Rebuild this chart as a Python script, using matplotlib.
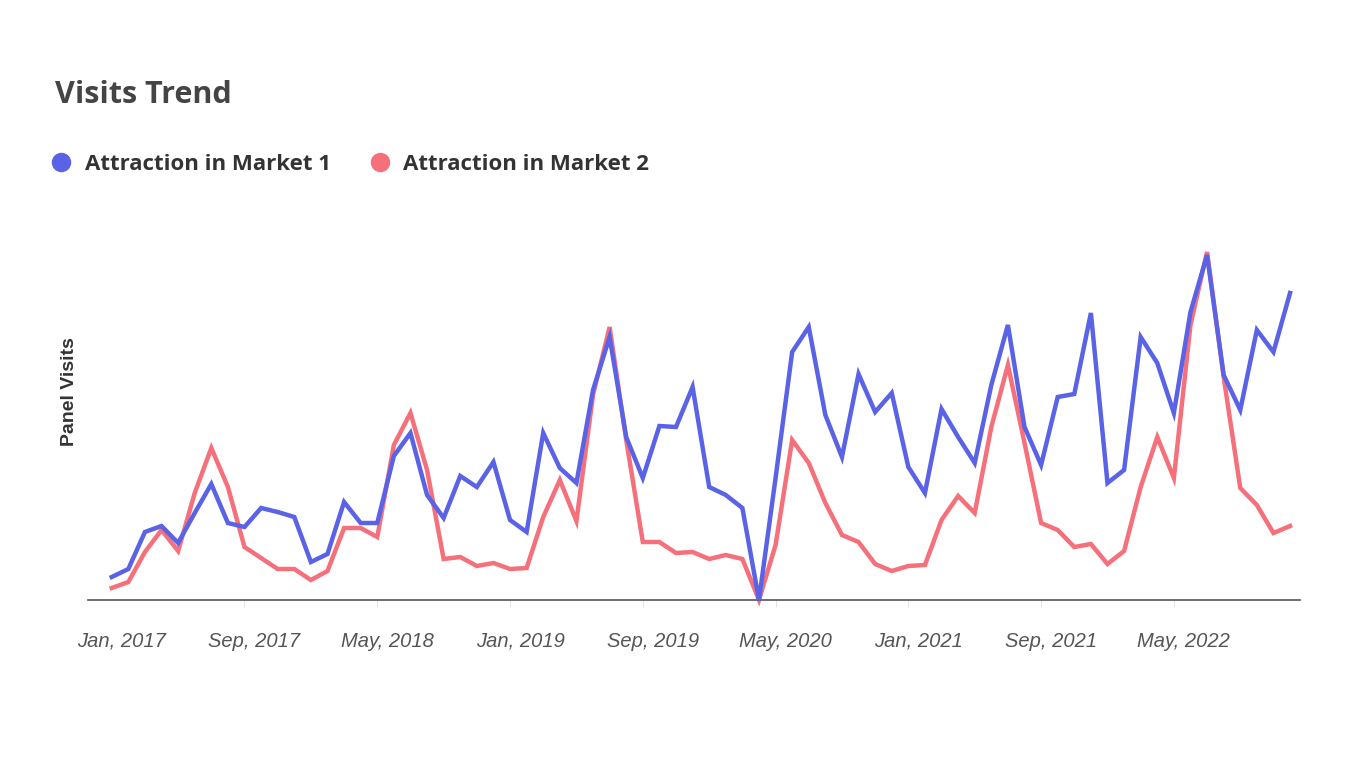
import matplotlib
matplotlib.use("Agg")
import matplotlib.pyplot as plt
from matplotlib.lines import Line2D
import numpy as np

# monthly panel visits, Jan 2017 .. Dec 2022
market1 = [23, 31, 68, 74, 57, 87, 116, 77, 73, 92, 88, 83,
           38, 46, 98, 77, 77, 144, 167, 105, 82, 124, 113, 138,
           80, 68, 167, 132, 117, 210, 263, 163, 122, 174, 173, 213,
           113, 105, 92, 0, 122, 248, 273, 185, 143, 226, 188, 207,
           133, 107, 191, 163, 137, 215, 275, 173, 135, 203, 206, 287,
           117, 130, 263, 237, 187, 288, 345, 225, 190, 270, 248, 307]
market2 = [12, 18, 48, 70, 49, 107, 152, 113, 53, 42, 31, 31,
           20, 29, 72, 72, 63, 155, 187, 130, 41, 43, 34, 37,
           31, 32, 83, 120, 79, 205, 273, 160, 58, 58, 47, 48,
           41, 45, 41, 0, 55, 160, 137, 97, 65, 58, 36, 29,
           34, 35, 80, 104, 87, 173, 235, 157, 77, 70, 53, 56,
           36, 49, 113, 163, 122, 275, 348, 223, 112, 95, 67, 74]
series_names = ["Attraction in Market 1", "Attraction in Market 2"]
tick_labels = ["Jan, 2017", "Sep, 2017", "May, 2018", "Jan, 2019", "Sep, 2019",
               "May, 2020", "Jan, 2021", "Sep, 2021", "May, 2022"]

blue = "#5A62E6"
red = "#F5707A"

months = np.arange(len(market1))

fig = plt.figure(figsize=(13.62, 7.59), dpi=100)
ax = fig.add_axes([88 / 1362, 1 - 600 / 759, 1212 / 1362, 400 / 759])

ax.plot(months, market2, color=red, lw=3.2, solid_joinstyle="miter", clip_on=False, zorder=2)
ax.plot(months, market1, color=blue, lw=3.2, solid_joinstyle="miter", clip_on=False, zorder=3)

ax.set_xlim(-1.43, 71.6)
ax.set_ylim(0, 400)

for s in ["top", "right", "left"]:
    ax.spines[s].set_visible(False)
ax.spines["bottom"].set_color("#555555")
ax.spines["bottom"].set_linewidth(1.2)
ax.set_yticks([])

# labels sit a little to the right of the faint tick marks
tick_pos = np.arange(0, 72, 8)
ax.set_xticks(tick_pos + 0.6)
ax.set_xticklabels(tick_labels, fontstyle="italic", fontsize=14.5,
                   color="#555555", family="Liberation Sans")
ax.tick_params(axis="x", length=0, pad=23)
ax.set_xticks(tick_pos[1:], minor=True)
ax.tick_params(axis="x", which="minor", length=5, width=0.8, color="#e4e4e4", pad=3)

ax.set_ylabel("Panel Visits", fontsize=14, fontweight="bold", color="#333333",
              family="Liberation Sans")
ax.yaxis.set_label_coords(-10 / 1212, 0.52)

fig.text(55 / 1362, 1 - 95 / 759, "Visits Trend", fontsize=22, fontweight="bold",
         color="#444444", family="Open Sans", va="center", ha="left")

handles = [Line2D([], [], marker="o", ls="none", color=c, markersize=13)
           for c in (blue, red)]
leg = fig.legend(handles, series_names, loc="center left", ncol=2,
                 bbox_to_anchor=(28 / 1362, 1 - 164 / 759), frameon=False,
                 prop={"family": "Open Sans", "weight": "bold", "size": 16.0},
                 handletextpad=0.45, columnspacing=1.6, handlelength=1.2)
for t in leg.get_texts():
    t.set_color("#333333")

fig.savefig("out.png", dpi=100, facecolor="white")
